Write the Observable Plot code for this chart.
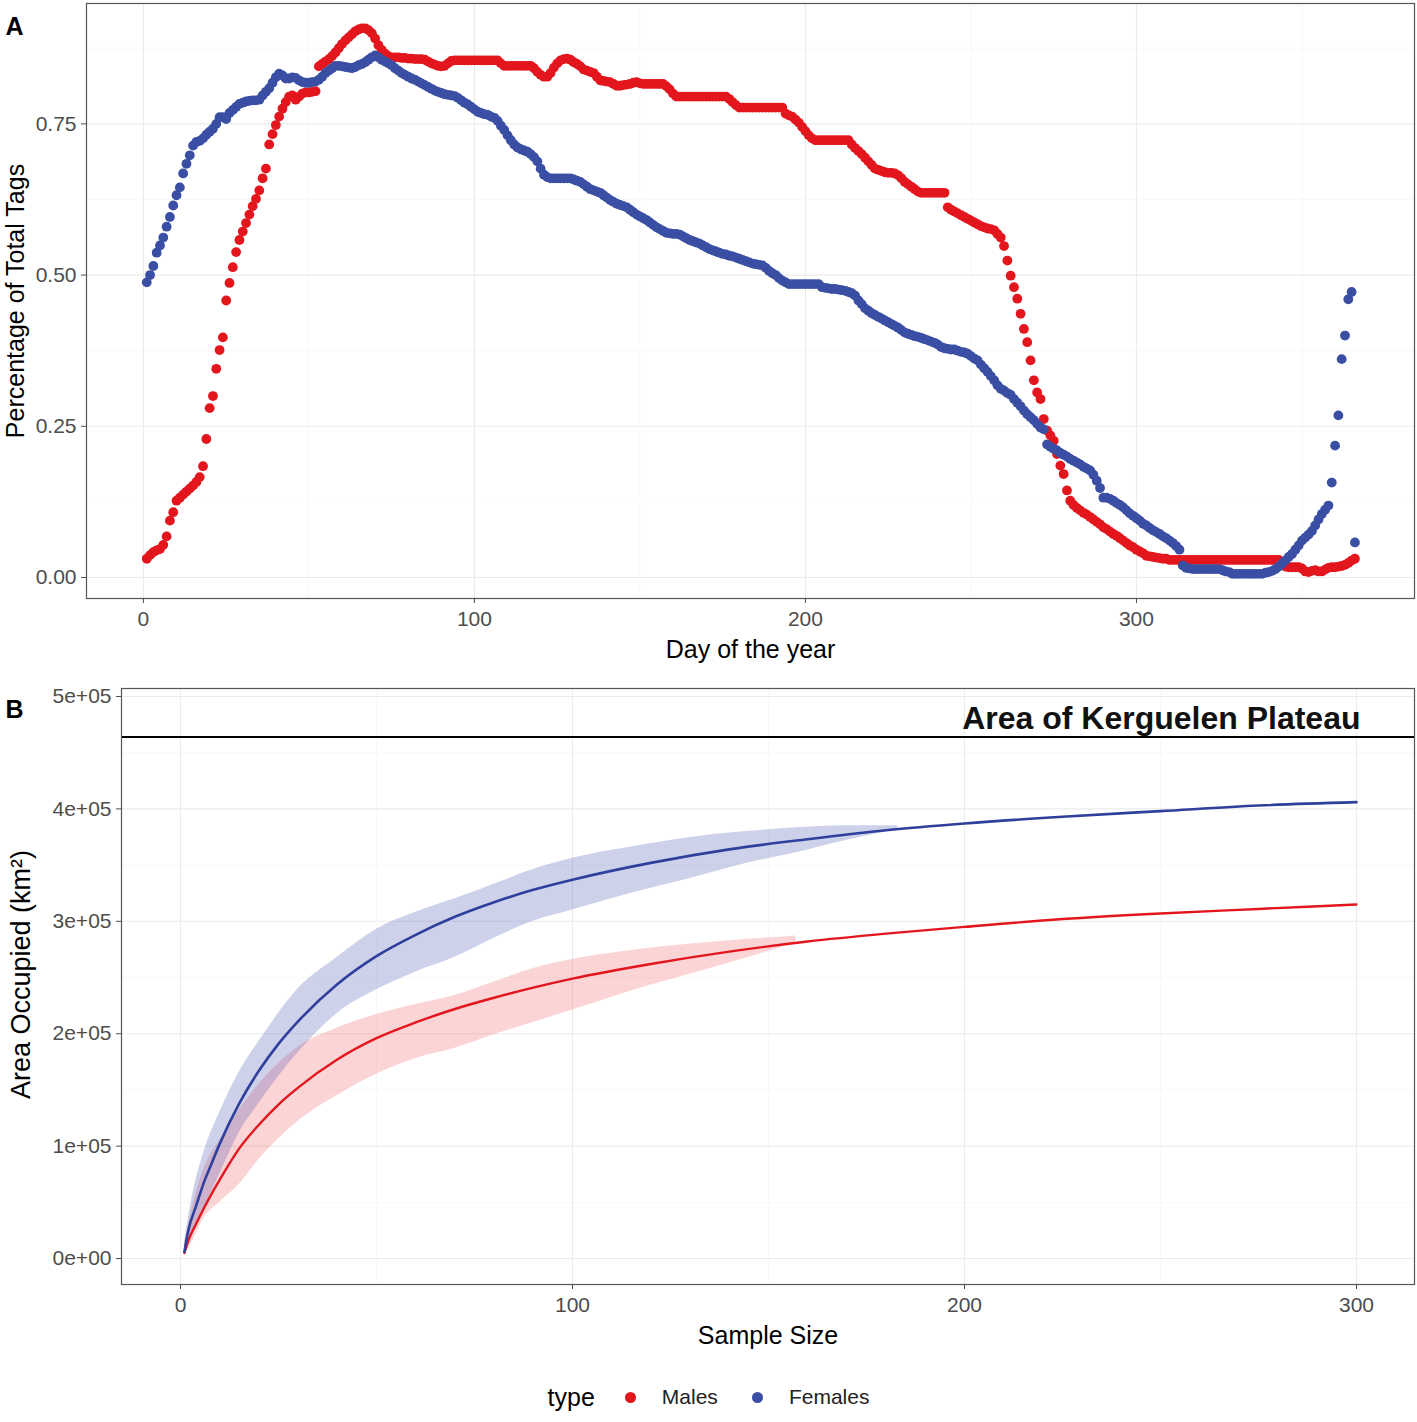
<!DOCTYPE html>
<html><head><meta charset="utf-8">
<script src="https://cdn.jsdelivr.net/npm/d3@7"></script>
<script src="https://cdn.jsdelivr.net/npm/@observablehq/plot@0.6"></script>
<style>
body{margin:0;background:#fff;}
#wrap{position:relative;width:1417px;height:1422px;font-family:"Liberation Sans",Arial,Helvetica,sans-serif;background:#fff;}
#pa{position:absolute;left:0;top:0}
#pb{position:absolute;left:0;top:668px}
#legend{position:absolute;left:34px;top:1380px;width:1383px;height:34px;display:flex;align-items:center;justify-content:center;}
#legend .ttl{font-size:25px;color:#000;margin-right:30px;}
#legend .dot{width:11px;height:11px;border-radius:50%;display:inline-block;margin-right:26px;}
#legend .lab{font-size:21px;color:#222;margin-right:34px;}
</style></head>
<body><div id="wrap"><div id="pa"></div><div id="pb"></div><div id="legend"></div></div>
<script>
// ---------- Panel A data ----------
const days = d3.range(1, 367);
const malesPct = [
.031,.037,.042,.045,.047,.054,.068,.094,.108,.127,
.132,.137,.142,.147,.152,.158,.166,.184,.229,.280,
.300,.345,.376,.397,.458,.487,.513,.538,.558,.572,
.586,.600,.614,.626,.640,.660,.676,.716,.733,.748,
.762,.775,.786,.795,.797,.790,.795,.800,.802,.802,
.803,.804,.845,.849,.853,.857,.862,.868,.875,.882,
.888,.893,.898,.903,.906,.908,.908,.905,.900,.891,
.880,.872,.866,.862,.860,.860,.860,.859,.859,.858,
.858,.857,.857,.857,.856,.853,.850,.848,.846,.845,
.846,.850,.854,.855,.855,.855,.855,.855,.855,.855,
.855,.855,.855,.855,.855,.855,.855,.850,.846,.846,
.846,.846,.846,.846,.846,.846,.846,.842,.836,.831,
.828,.828,.834,.843,.850,.855,.857,.858,.856,.852,
.849,.845,.840,.838,.836,.834,.828,.822,.821,.820,
.819,.816,.813,.813,.814,.815,.816,.818,.819,.817,
.816,.816,.816,.816,.816,.816,.816,.812,.807,.800,
.795,.795,.795,.795,.795,.795,.795,.795,.795,.795,
.795,.795,.795,.795,.795,.795,.791,.786,.781,.777,
.777,.777,.777,.777,.777,.777,.777,.777,.777,.777,
.777,.777,.777,.767,.764,.762,.757,.752,.745,.738,
.731,.726,.723,.723,.723,.723,.723,.723,.723,.723,
.723,.723,.723,.716,.710,.705,.700,.694,.688,.682,
.676,.674,.672,.670,.669,.669,.668,.665,.660,.654,
.650,.646,.642,.638,.636,.636,.636,.636,.636,.636,
.636,.636,.612,.608,.605,.602,.599,.596,.593,.590,
.587,.584,.581,.579,.577,.576,.574,.568,.562,.548,
.524,.499,.480,.461,.436,.411,.389,.359,.326,.306,
.295,.262,.243,.235,.226,.204,.185,.171,.144,.127,
.120,.115,.111,.107,.104,.100,.096,.092,.088,.083,
.080,.076,.072,.069,.065,.061,.057,.053,.050,.046,
.043,.040,.036,.035,.034,.033,.032,.031,.031,.029,
.029,.029,.029,.029,.029,.029,.029,.029,.029,.029,
.029,.029,.029,.029,.029,.029,.029,.029,.029,.029,
.029,.029,.029,.029,.029,.029,.029,.029,.029,.029,
.029,.029,.029,.022,.018,.017,.017,.017,.017,.015,
.010,.009,.011,.012,.010,.010,.013,.016,.017,.017,
.018,.019,.021,.024,.028,.031];
const femalesPct = [
.488,.500,.515,.537,.549,.562,.580,.596,.615,.632,
.645,.668,.684,.698,.714,.720,.722,.726,.732,.737,
.742,.750,.761,.761,.758,.768,.773,.778,.783,.785,
.787,.788,.789,.789,.790,.797,.803,.809,.818,.827,
.833,.830,.825,.825,.827,.826,.822,.819,.818,.818,
.819,.820,.823,.828,.834,.838,.842,.846,.846,.845,
.844,.843,.842,.844,.847,.849,.852,.856,.860,.863,
.860,.856,.853,.850,.847,.842,.838,.834,.831,.828,
.825,.823,.820,.817,.814,.811,.808,.805,.803,.801,
.799,.798,.797,.796,.793,.789,.785,.782,.778,.774,
.770,.768,.766,.765,.762,.760,.755,.747,.740,.731,
.723,.716,.711,.708,.706,.704,.700,.695,.688,.676,
.666,.662,.660,.660,.660,.660,.660,.660,.660,.658,
.656,.654,.650,.646,.642,.640,.638,.636,.632,.628,
.624,.621,.618,.616,.614,.612,.608,.604,.600,.597,
.594,.591,.587,.583,.579,.576,.573,.570,.569,.568,
.568,.567,.564,.561,.558,.556,.554,.552,.549,.546,
.543,.541,.539,.537,.535,.534,.532,.531,.529,.527,
.525,.523,.521,.519,.518,.517,.516,.512,.507,.503,
.500,.495,.491,.488,.485,.485,.485,.485,.485,.485,
.485,.485,.485,.485,.480,.479,.478,.477,.477,.476,
.475,.474,.472,.470,.466,.458,.452,.445,.441,.437,
.434,.431,.428,.425,.422,.419,.416,.413,.409,.405,
.403,.401,.399,.398,.396,.394,.392,.390,.388,.385,
.381,.379,.378,.377,.377,.375,.373,.372,.370,.366,
.362,.359,.352,.346,.340,.333,.326,.318,.312,.309,
.305,.302,.295,.289,.283,.276,.270,.265,.260,.254,
.248,.245,.220,.216,.213,.210,.206,.203,.200,.196,
.193,.190,.187,.183,.180,.177,.170,.160,.148,.132,
.132,.130,.127,.123,.120,.116,.111,.106,.102,.098,
.094,.089,.086,.082,.078,.075,.072,.068,.065,.061,
.057,.052,.046,.020,.016,.015,.014,.014,.014,.014,
.014,.014,.014,.014,.014,.012,.010,.009,.006,.006,
.006,.006,.006,.006,.006,.006,.006,.006,.008,.009,
.011,.014,.018,.023,.028,.034,.039,.046,.053,.061,
.066,.071,.077,.086,.096,.105,.112,.119,.157,.218,
.268,.361,.400,.460,.472,.058];
const dayMajor = [0, 100, 200, 300];
const dayMinor = [50, 150, 250, 350];
const pctMajor = [0, 0.25, 0.5, 0.75];
const pctMinor = [0.125, 0.375, 0.625, 0.875];

// ---------- Panel B data ----------
const fitN = [1,2,4,6,8,10,15,20,25,30,40,50,60,70,80,90,100,120,140,160,180,200,225,250,275,300];
const fitFemales = [0.06,0.25,0.47,0.68,0.85,1.02,1.38,1.67,1.91,2.11,2.44,2.69,2.88,3.04,3.17,3.28,3.37,3.52,3.64,3.73,3.81,3.87,3.93,3.98,4.03,4.06].map(v => v * 1e5);
const fitMales   = [0.05,0.16,0.31,0.45,0.58,0.70,0.98,1.19,1.37,1.52,1.77,1.96,2.10,2.22,2.32,2.41,2.49,2.62,2.73,2.82,2.89,2.95,3.02,3.07,3.11,3.15].map(v => v * 1e5);
const envNFemales = [1,3,6,10,15,20,30,40,50,60,70,80,90,100,115,131,145,156,170,183];
const envUpperFemales = [0.15,0.55,0.95,1.30,1.66,1.93,2.40,2.68,2.93,3.08,3.20,3.33,3.46,3.56,3.66,3.75,3.80,3.83,3.85,3.85].map(v => v * 1e5);
const envLowerFemales = [0.04,0.22,0.45,0.75,1.12,1.38,1.83,2.18,2.39,2.55,2.68,2.85,3.00,3.10,3.25,3.39,3.52,3.60,3.72,3.82].map(v => v * 1e5);
const envNMales = [1,3,6,10,15,20,30,40,50,60,70,80,90,100,115,131,145,157];
const envUpperMales = [0.12,0.45,0.80,1.05,1.32,1.55,1.88,2.05,2.17,2.26,2.34,2.46,2.58,2.66,2.74,2.80,2.84,2.87].map(v => v * 1e5);
const envLowerMales = [0.03,0.15,0.36,0.50,0.66,0.88,1.22,1.45,1.64,1.78,1.87,1.99,2.10,2.21,2.38,2.54,2.68,2.81].map(v => v * 1e5);
const plateauArea = 4.64e5;
const plateauLabel = "Area of Kerguelen Plateau";
const nMajor = [0, 100, 200, 300];
const nMinor = [50, 150, 250];
const areaMajor = [0, 1e5, 2e5, 3e5, 4e5, 5e5];
const areaMinor = [0.5e5, 1.5e5, 2.5e5, 3.5e5, 4.5e5];

const typeLabels = ["Males", "Females"];
const RED = "#E3161E", BLUE = "#3A4FA4";
const FONT = '"Liberation Sans", Arial, Helvetica, sans-serif';

const rowsM = days.map((d, i) => ({day: d, v: malesPct[i]}));
const rowsF = days.map((d, i) => ({day: d, v: femalesPct[i]}));

const gridMajor = {stroke: "#ebebeb", strokeWidth: 1.1};
const gridMinor = {stroke: "#f3f3f3", strokeWidth: 0.6};
const axisXStyle = {tickSize: 5, tickPadding: 8, fontSize: 21, label: null, color: "#4d4d4d"};
const axisYStyle = {tickSize: 5, tickPadding: 5, fontSize: 21, label: null, color: "#4d4d4d"};

const plotA = Plot.plot({
  width: 1417, height: 668,
  marginLeft: 86, marginRight: 3, marginTop: 3, marginBottom: 70,
  style: {fontFamily: FONT, background: "#fff", overflow: "visible"},
  x: {domain: [-17.2, 384]},
  y: {domain: [-0.0347, 0.949]},
  marks: [
    Plot.ruleX(dayMinor, gridMinor),
    Plot.ruleY(pctMinor, gridMinor),
    Plot.ruleX(dayMajor, gridMajor),
    Plot.ruleY(pctMajor, gridMajor),
    Plot.dot(rowsM, {x: "day", y: "v", r: 4.9, fill: RED}),
    Plot.dot(rowsF, {x: "day", y: "v", r: 4.9, fill: BLUE}),
    Plot.frame({stroke: "#555", strokeWidth: 1.2}),
    Plot.axisX({ticks: dayMajor, ...axisXStyle}),
    Plot.axisY({ticks: pctMajor, tickFormat: d3.format(".2f"), ...axisYStyle}),
    Plot.text(["Day of the year"], {text: d => d, frameAnchor: "bottom", dy: 59, fontSize: 25, fill: "#000"}),
    Plot.text(["Percentage of Total Tags"], {text: d => d, frameAnchor: "left", textAnchor: "middle", dx: -71, rotate: -90, fontSize: 25, fill: "#000"}),
    Plot.text(["A"], {text: d => d, frameAnchor: "top-left", dx: -81, dy: 14, textAnchor: "start", fontSize: 25, fontWeight: "bold", fill: "#000"})
  ]
});
document.getElementById("pa").appendChild(plotA);

const fitF = fitN.map((n, i) => ({n, a: fitFemales[i]}));
const fitM = fitN.map((n, i) => ({n, a: fitMales[i]}));
const envF = envNFemales.map((n, i) => ({n, lo: envLowerFemales[i], hi: envUpperFemales[i]}));
const envM = envNMales.map((n, i) => ({n, lo: envLowerMales[i], hi: envUpperMales[i]}));
const sciFmt = v => v === 0 ? "0e+00" : (v / 1e5) + "e+05";

const plotB = Plot.plot({
  width: 1417, height: 700,
  marginLeft: 121, marginRight: 3, marginTop: 20, marginBottom: 84,
  style: {fontFamily: FONT, background: "#fff", overflow: "visible"},
  x: {domain: [-15.05, 314.8]},
  y: {domain: [-0.231e5, 5.071e5]},
  marks: [
    Plot.ruleX(nMinor, gridMinor),
    Plot.ruleY(areaMinor, gridMinor),
    Plot.ruleX(nMajor, gridMajor),
    Plot.ruleY(areaMajor, gridMajor),
    Plot.areaY(envM, {x: "n", y1: "lo", y2: "hi", fill: "#EE4A52", fillOpacity: 0.24, curve: "monotone-x"}),
    Plot.areaY(envF, {x: "n", y1: "lo", y2: "hi", fill: "#4A54B0", fillOpacity: 0.27, curve: "monotone-x"}),
    Plot.line(fitM, {x: "n", y: "a", stroke: RED, strokeWidth: 2.4, curve: "monotone-x"}),
    Plot.line(fitF, {x: "n", y: "a", stroke: "#2F3F9C", strokeWidth: 2.6, curve: "monotone-x"}),
    Plot.ruleY([plateauArea], {stroke: "#000", strokeWidth: 2}),
    Plot.text([plateauLabel], {text: d => d, y: () => plateauArea, frameAnchor: "right", textAnchor: "end", dx: -54, dy: -18, fontSize: 32, fontWeight: "bold", fill: "#111"}),
    Plot.frame({stroke: "#555", strokeWidth: 1.2}),
    Plot.axisX({ticks: nMajor, ...axisXStyle}),
    Plot.axisY({ticks: areaMajor, tickFormat: sciFmt, ...axisYStyle}),
    Plot.text(["Sample Size"], {text: d => d, frameAnchor: "bottom", dy: 59, fontSize: 25, fill: "#000"}),
    Plot.text(["Area Occupied (km²)"], {text: d => d, frameAnchor: "left", textAnchor: "middle", dx: -100, dy: -12, rotate: -90, fontSize: 27, fill: "#000"}),
    Plot.text(["B"], {text: d => d, frameAnchor: "top-left", dx: -116, dy: 12, textAnchor: "start", fontSize: 25, fontWeight: "bold", fill: "#000"})
  ]
});
document.getElementById("pb").appendChild(plotB);

// legend
const leg = d3.select("#legend");
leg.append("span").attr("class", "ttl").text("type");
[RED, BLUE].forEach((c, i) => {
  leg.append("span").attr("class", "dot").style("background", c);
  leg.append("span").attr("class", "lab").text(typeLabels[i]);
});
</script>
</body></html>
